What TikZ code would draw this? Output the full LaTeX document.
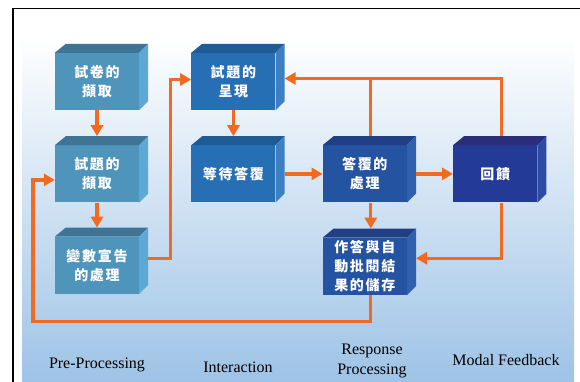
\documentclass[tikz,border=0pt]{standalone}
\usepackage{fontspec}
\newfontfamily\cjk[LetterSpace=12]{Noto Sans CJK TC}
\newfontfamily\enserif{Liberation Serif}
\usepackage{xcolor}
\usetikzlibrary{positioning,arrows.meta,calc}
\definecolor{flowc}{HTML}{F26A21}
\definecolor{bg}{HTML}{9EC3E6}
\definecolor{prefr}{HTML}{4F94BA}
\definecolor{pretp}{HTML}{3F7494}
\definecolor{presd}{HTML}{5DA9D5}
\definecolor{intfr}{HTML}{276FB5}
\definecolor{inttp}{HTML}{1F5B94}
\definecolor{intsd}{HTML}{3C80C3}
\definecolor{resfr}{HTML}{2453A2}
\definecolor{restp}{HTML}{213F84}
\definecolor{ressd}{HTML}{3060AE}
\definecolor{fbfr}{HTML}{243A97}
\definecolor{fbtp}{HTML}{2A2E7A}
\definecolor{fbsd}{HTML}{2F4AA3}

\begin{document}
\begin{tikzpicture}[
  x=1pt,y=-1pt,
  cube/.style={minimum width=84pt,minimum height=57pt,inner sep=0pt,align=center,
               text=white,font=\cjk\bfseries\fontsize{14}{19}\selectfont},
  flow/.style={-{Triangle[length=11pt,width=12pt]},line width=3.2pt,flowc},
  link/.style={line width=3.2pt,flowc},
  lab/.style={font=\enserif\fontsize{16}{20}\selectfont,align=center},
]
\useasboundingbox (0,0) rectangle (580,382);
% backdrop and frame
\shade[top color=white,middle color=bg!45,bottom color=bg] (22,36) rectangle (574,382);
\draw[line width=1.6pt] (13,382) -- (13,8.5) -- (580,8.5);

% front faces
\node[cube,fill=prefr] (b1) at (97,81.5) {試卷的\\擷取};
\node[cube,fill=prefr,below=35pt of b1] (b2) {試題的\\擷取};
\node[cube,fill=prefr,below=34pt of b2] (b3) {變數宣告\\的處理};
\node[cube,fill=intfr,right=52pt of b1] (b4) {試題的\\呈現};
\node[cube,fill=intfr,below=35pt of b4] (b5) {等待答覆};
\node[cube,fill=resfr,right=47pt of b5] (b6) {答覆的\\處理};
\node[cube,fill=fbfr,right=46pt of b6]  (b7) {回饋};
\node[cube,fill=resfr,below=35pt of b6] (b8) {作答與自\\動批閱結\\果的儲存};

% top and side faces
\foreach \nm/\ct/\cs in {b1/pretp/presd,b2/pretp/presd,b3/pretp/presd,
                         b4/inttp/intsd,b5/inttp/intsd,
                         b6/restp/ressd,b7/fbtp/fbsd,b8/restp/ressd}{
  \fill[\ct] (\nm.north west) -- ++(11,-9) -- ([shift={(9,-9)}]\nm.north east)
             -- (\nm.north east) -- cycle;
  \fill[\cs] (\nm.north east) -- ++(9,-9) -- ([shift={(9,-9)}]\nm.south east)
             -- (\nm.south east) -- cycle;
}

% flow between the steps
\coordinate (top)  at ([xshift=6pt,yshift=3pt]b6.north |- b4.east);
\coordinate (back) at (33,321.5);
\draw[flow,shorten >=9pt] (b1) -- (b2);
\draw[flow,shorten >=9pt] (b2) -- (b3);
\draw[flow,shorten >=9pt] (b4) -- (b5);
\draw[flow,shorten <=9pt] ([yshift=7pt]b3.east) -- ++(31,0) |- ([yshift=2pt]b4.west);
\draw[flow,shorten <=9pt] (b5) -- (b6);
\draw[flow,shorten <=9pt] (b6) -- (b7);
\draw[flow,shorten >=9pt] ([xshift=6pt]b6.south) -- ([xshift=6pt]b8.north);
\draw[flow,shorten <=9pt,shorten >=9pt] ([xshift=6pt]b6.north) |- ([yshift=3pt]b4.east);
\draw[link,shorten <=9pt] ([xshift=6pt]b7.north) |- (top);
\draw[flow,shorten >=9pt] ([xshift=6pt]b7.south) |- ([yshift=8pt]b8.east);
\draw[flow] ([xshift=6pt]b8.south) |- (back) |- ([yshift=-6pt]b2.west);

% phase labels
\node[lab] (pre)  at (97,365)  {Pre-Processing};
\node[lab] (intr) at (238,367) {Interaction};
\node[lab] (resp) at (372,361) {Response\\Processing};
\node[lab] (modf) at (506,360) {Modal Feedback};
\end{tikzpicture}
\end{document}
